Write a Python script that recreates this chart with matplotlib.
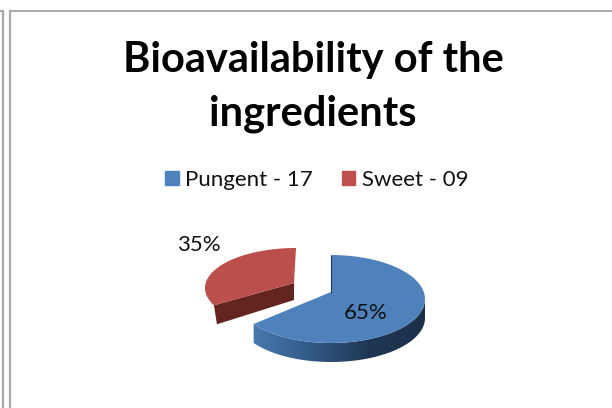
import numpy as np
from matplotlib import pyplot as plt
from matplotlib.patches import Patch, Polygon

plt.rcParams['font.family'] = ['Lato', 'DejaVu Sans']

title = "Bioavailability of the\ningredients"
labels = ["Pungent - 17", "Sweet - 09"]
values = [17, 9]
colors = ["#4f81bd", "#c0504d"]

total = sum(values)
share = [v / total for v in values]
blue_end = 360 * share[0]


def arc(cx, cy, rx, ry, t0, t1, n=80):
    # angle runs clockwise from the top of the ellipse
    t = np.radians(np.linspace(t0, t1, n))
    return np.column_stack([cx + rx * np.sin(t), cy - ry * np.cos(t)])


fig = plt.figure(figsize=(6.12, 4.08), dpi=100)
ax = fig.add_axes([0, 0, 1, 1])
ax.set_xlim(0, 612)
ax.set_ylim(408, 0)
ax.axis('off')

# window frame behind the chart
for x in [2.5, 10]:
    ax.plot([x, x], [11, 408], c="#a8a8a8", lw=1.6)
ax.plot([10, 612], [11, 11], c="#a8a8a8", lw=1.4)
ax.plot([0, 3], [11, 11], c="#a8a8a8", lw=1.4)

ax.text(313, 87, title, ha='center', va='center', fontsize=30,
        fontweight='bold', color="black", linespacing=1.5)

handles = [Patch(color=c, label=l) for c, l in zip(colors, labels)]
ax.legend(handles=handles, loc='center', bbox_to_anchor=(317 / 612, 1 - 180 / 408),
          ncol=2, frameon=False, fontsize=16, handlelength=0.6, handleheight=0.6,
          handletextpad=0.3, columnspacing=1.3, labelcolor="#111111")

# blue slice
depth = 19
cx, cy, rx, ry = 331, 299, 94, 44
apex = (331, 292)
rim = arc(cx, cy, rx, ry, 90, blue_end)
wall = Polygon(np.vstack([rim, (rim + [0, depth])[::-1]]), closed=True, fc='none', ec='none')
ax.add_patch(wall)
grad = np.linspace(0, 1, 256).reshape(1, -1)
cmap = plt.matplotlib.colors.LinearSegmentedColormap.from_list(
    "wall", ["#4a78ae", "#335a88", "#1f3754", "#1c3048"])
img = ax.imshow(grad, extent=[253, 426, 408, 0], cmap=cmap, aspect='auto', zorder=2)
img.set_clip_path(wall)
ax.set_xlim(0, 612)
ax.set_ylim(408, 0)

top = np.vstack([[apex], arc(cx, cy, rx, ry, 0, blue_end)])
ax.add_patch(Polygon(top, closed=True, fc=colors[0], ec='none', zorder=3))
ax.plot([331, 331], [256, 292], c="#1f3754", lw=0.8, zorder=4)

# red slice, pulled out to the left
red_apex = (294, 283)
red_rim = arc(296, 288, 91, 40, blue_end + 9, 360)
tip = red_rim[0]
face = np.array([red_apex, tip, tip + [3, depth], [294, 300]])
ax.add_patch(Polygon(face, closed=True, fc="#64241f", ec='none', zorder=2))
ax.add_patch(Polygon(np.vstack([[red_apex], red_rim]), closed=True, fc="#bb4f4b", ec='none', zorder=3))

ax.text(199, 245, f"{share[1] * 100:.0f}%", ha='center', va='center', fontsize=16, color="#111111", zorder=5)
ax.text(366, 313, f"{share[0] * 100:.0f}%", ha='center', va='center', fontsize=16, color="#111111", zorder=5)

fig.savefig("out.png", dpi=100)
